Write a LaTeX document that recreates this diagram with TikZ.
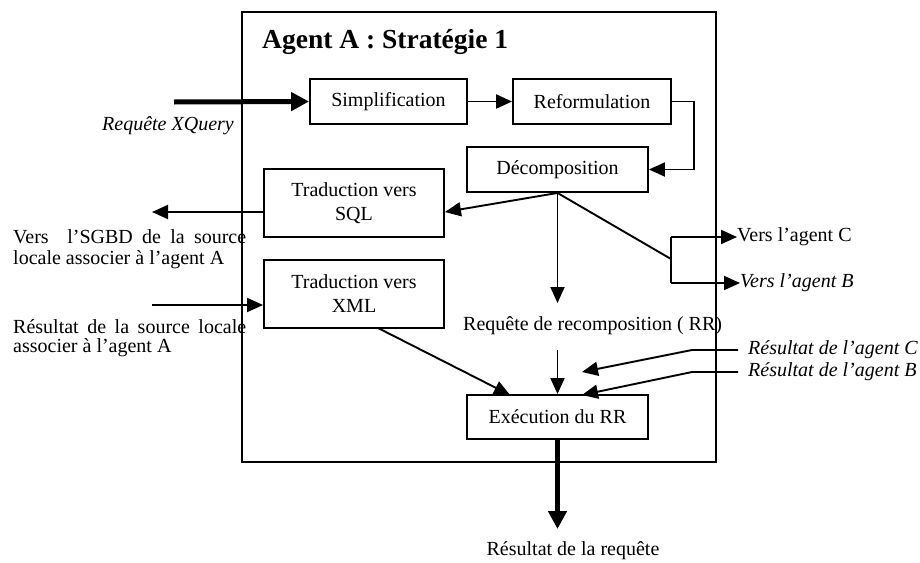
\documentclass[tikz,border=0pt]{standalone}
\usepackage{fontspec}
\setmainfont{Liberation Serif}
\usetikzlibrary{arrows.meta}
\begin{document}
\begin{tikzpicture}[x=1pt,y=-1pt,
  txt/.style={font=\fontsize{20}{24}\selectfont, inner sep=0pt},
  itx/.style={font=\fontsize{20}{24}\selectfont\itshape, inner sep=0pt},
  box/.style={txt, draw, line width=1.9pt, minimum height=45pt, align=center},
  link/.style={line width=1.9pt, -{Triangle[length=16pt,width=14pt]}},
  heavy/.style={line width=5pt, -{Triangle[length=18pt,width=18pt]}},
  plain/.style={line width=1.9pt}
]
\useasboundingbox (0,0) rectangle (920,562);

% agent frame and title
\node[draw, line width=2pt, minimum width=474pt, minimum height=450pt, inner sep=0pt] (agent) at (479,237) {};
\node[anchor=west, inner sep=0pt, font=\fontsize{27.5}{30}\selectfont\bfseries] (title) at (262,42) {Agent A : Stratégie 1};

% processing steps
\node[box, minimum width=157pt] (simp) at (388.5,101.5) {Simplification};
\node[box, minimum width=158pt] (refo) at (592,101.5) {Reformulation};
\node[box, minimum width=181pt] (deco) at (557.5,169.5) {Décomposition};
\node[box, minimum width=180pt, minimum height=68pt] (sql) at (354,203) {Traduction vers\\SQL};
\node[box, minimum width=180pt, minimum height=68pt] (xml) at (354,294) {Traduction vers\\XML};
\node[box, minimum width=181pt, minimum height=44pt] (exec) at (557.5,417) {Exécution du RR};

% free labels
\node[itx, anchor=west] (xq) at (102,126) {Requête XQuery};
\node[txt, anchor=west, align=left, font=\fontsize{20}{21}\selectfont] (sgbd) at (13,249)
  {\makebox[233pt][s]{Vers\ \ l’SGBD de la source}\\locale associer à l’agent A};
\node[txt, anchor=west, align=left, font=\fontsize{20}{19.5}\selectfont] (src) at (13,338)
  {\makebox[233pt][s]{Résultat de la source locale}\\associer à l’agent A};
\node[txt, anchor=west] (rr) at (463,326) {Requête de recomposition ( RR)};
\node[txt, anchor=west] (vC) at (737,237) {Vers l’agent C};
\node[itx, anchor=west] (vB) at (740,283) {Vers l’agent B};
\node[itx, anchor=west] (rC) at (748,350) {Résultat de l’agent C};
\node[itx, anchor=west] (rB) at (748,372) {Résultat de l’agent B};
\node[txt] (res) at (573,551) {Résultat de la requête};

% helper points
\coordinate (qin) at (174,102);
\coordinate (sqlrow) at (0,212);
\coordinate (sgbdout) at (152,212);
\coordinate (srcin) at (152,305);
\coordinate (rrtop) at (557.5,303);
\coordinate (rrbot) at (557.5,350);
\coordinate (fork) at (671,259);
\coordinate (forkC) at (671,237);
\coordinate (forkB) at (671,283);
\coordinate (xmlout) at (378,328);
\coordinate (xmlin) at (510,395);
\coordinate (bendC) at (692,350);
\coordinate (bendB) at (692,372);
\coordinate (tipC) at (582,372);
\coordinate (tipB) at (582,395);
\coordinate (out) at (557.5,529);

% connectors
\draw[heavy] (qin) -- (simp.west);
\draw[link] (simp.east) -- (refo.west);
\draw[link] (refo.east) -- ++(22,0) |- (deco.east);
\draw[link] (deco.south) -- (sql.east |- sqlrow);
\draw[link] (sql.west |- sqlrow) -- (sgbdout);
\draw[link] (srcin) -- (xml.west |- srcin);
\draw[link] (deco.south) -- (rrtop);
\draw[plain] (deco.south) -- (fork);
\draw[plain] (forkC) -- (forkB);
\draw[link] (forkC) -- (vC.west);
\draw[link] (forkB) -- (vB.west);
\draw[link] (rrbot) -- (exec.north);
\draw[link] (xmlout) -- (xmlin);
\draw[link] ([xshift=-10pt]rC.west) -- (bendC) -- (tipC);
\draw[link] ([xshift=-10pt]rB.west) -- (bendB) -- (tipB);
\draw[heavy] (exec.south) -- (out);
\end{tikzpicture}
\end{document}
